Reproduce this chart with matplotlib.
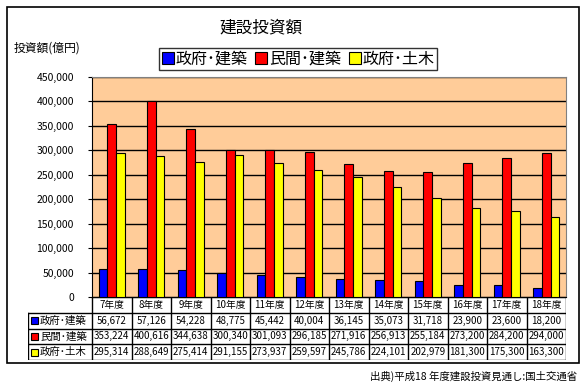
import matplotlib
matplotlib.use("Agg")
import matplotlib.pyplot as plt
from matplotlib.patches import Rectangle
import numpy as np

plt.rcParams['font.family'] = ['Noto Sans CJK JP', 'DejaVu Sans']

# data
years = ["7年度", "8年度", "9年度", "10年度", "11年度", "12年度",
         "13年度", "14年度", "15年度", "16年度", "17年度", "18年度"]
gov_bld = [56672, 57126, 54228, 48775, 45442, 40004, 36145, 35073, 31718, 23900, 23600, 18200]
priv_bld = [353224, 400616, 344638, 300340, 301093, 296185, 271916, 256913, 255184, 273200, 284200, 294000]
gov_civil = [295314, 288649, 275414, 291155, 273937, 259597, 245786, 224101, 202979, 181300, 175300, 163300]
series_names = ["政府･建築", "民間･建築", "政府･土木"]
colors = ["#0000FF", "#FF0000", "#FFFF00"]
series = [gov_bld, priv_bld, gov_civil]

W, H = 586, 392
fig = plt.figure(figsize=(W / 100, H / 100), dpi=100)

def fx(px):
    return px / W

def fy(py):
    return 1 - py / H

# outer frame
fig.patches.append(Rectangle((fx(7), fy(363)), fx(572), 356 / H, transform=fig.transFigure,
                             fill=False, edgecolor="black", linewidth=1.2))

# main plot
left, right, top, bottom = 92, 566, 77, 297
ax = fig.add_axes([fx(left), fy(bottom), fx(right - left), (bottom - top) / H])
ax.set_facecolor("#FFCC99")
x = np.arange(len(years))
bw = 0.22
bars = []
for i, (vals, c) in enumerate(zip(series, colors)):
    b = ax.bar(x + (i - 1) * bw, vals, bw, color=c, edgecolor="black", linewidth=0.8, zorder=3)
    bars.append(b)
ax.set_xlim(-0.5, len(years) - 0.5)
ax.set_ylim(0, 450000)
ax.set_yticks(np.arange(0, 450001, 50000))
ax.set_yticklabels([f"{v:,}" for v in range(0, 450001, 50000)], fontsize=7.5)
ax.yaxis.grid(True, color="black", linewidth=1, zorder=1)
ax.set_axisbelow(True)
ax.set_xticks([])
ax.tick_params(axis="y", length=3, pad=10)
for s in ["top", "right"]:
    ax.spines[s].set_color("#808080")
ax.spines["left"].set_color("black")
ax.spines["bottom"].set_color("black")

# table under the plot
t_left, t_right, t_top, t_bot = 28, 566, 297, 360
tab = fig.add_axes([fx(t_left), fy(t_bot), fx(t_right - t_left), (t_bot - t_top) / H])
tab.set_xlim(t_left, t_right)
tab.set_ylim(t_bot, t_top)
tab.axis("off")
col_w = (right - left) / len(years)
row_y = np.linspace(t_top, t_bot, 5)
lw = 1
# horizontal lines
tab.plot([left, right], [row_y[0], row_y[0]], color="black", lw=lw)
for yy in row_y[1:]:
    tab.plot([t_left, right], [yy, yy], color="black", lw=lw)
# vertical lines
tab.plot([t_left, t_left], [row_y[1], row_y[4]], color="black", lw=lw)
for j in range(len(years) + 1):
    xx = left + j * col_w
    tab.plot([xx, xx], [row_y[0], row_y[4]], color="black", lw=lw)
for j, yr in enumerate(years):
    tab.text(left + (j + 0.5) * col_w, (row_y[0] + row_y[1]) / 2, yr,
             ha="center", va="center", fontsize=7)
for i, (name, vals, c) in enumerate(zip(series_names, series, colors)):
    yc = (row_y[i + 1] + row_y[i + 2]) / 2
    tab.add_patch(Rectangle((31, yc - 3.5), 7, 7, facecolor=c, edgecolor="black", linewidth=0.8))
    tab.text(40, yc, name, ha="left", va="center", fontsize=7.5)
    for j, v in enumerate(vals):
        tab.text(left + (j + 0.5) * col_w, yc, f"{v:,}", ha="center", va="center", fontsize=7)

# title, axis label, legend, source
fig.text(fx(261), fy(28), "建設投資額", ha="center", va="center", fontsize=12)
fig.text(fx(14), fy(48), "投資額(億円)", ha="left", va="center", fontsize=8.5)
leg = fig.legend(bars, series_names, loc="center", bbox_to_anchor=(fx(298), fy(59)),
                 ncol=3, fontsize=11.5, frameon=True, fancybox=False, edgecolor="black",
                 handlelength=0.75, handleheight=0.75, handletextpad=0.1,
                 columnspacing=0.5, borderpad=0.15, borderaxespad=0)
leg.get_frame().set_linewidth(1)
fig.text(fx(577), fy(376), "出典)平成18 年度建設投資見通し:国土交通省", ha="right", va="center", fontsize=7.5)

fig.savefig("out.png", dpi=100)
